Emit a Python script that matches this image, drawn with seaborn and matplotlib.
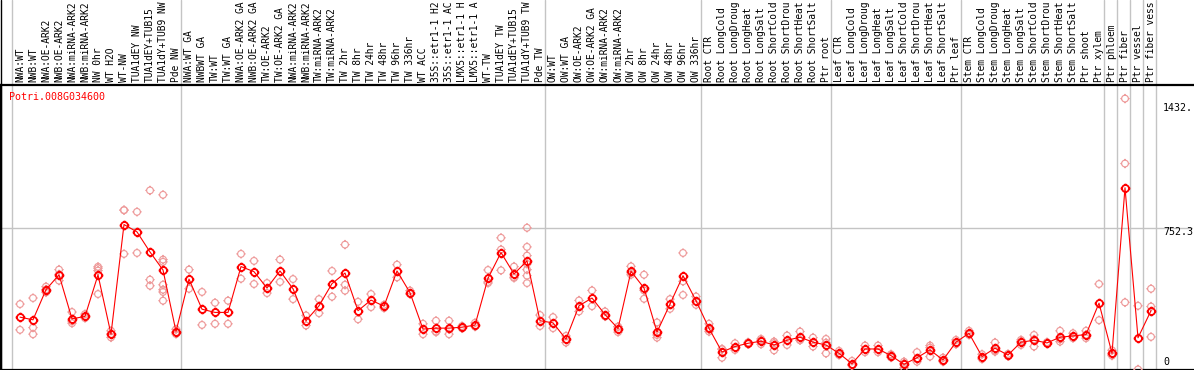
import numpy as np
import pandas as pd
import matplotlib
matplotlib.use("Agg")
import matplotlib.pyplot as plt
import matplotlib.transforms as mtransforms
from matplotlib.path import Path
from matplotlib.lines import Line2D
import seaborn as sns

# ---------------- data ----------------
gene = "Potri.008G034600"

categories = [
    "NWA:WT", "NWB:WT", "NWA:OE-ARK2", "NWB:OE-ARK2", "NWA:miRNA-ARK2", "NWB:miRNA-ARK2",
    "NW 0hr", "WT H2O", "WT-NW", "TUA1dEY NW", "TUA1dEY+TUB15", "TUA1dY+TUB9 NW", "Pde NW",
    "NWA:WT GA", "NWBWT GA", "TW:WT", "TW:WT GA", "NWA:OE-ARK2 GA", "NWB:OE-ARK2 GA",
    "TW:OE-ARK2", "TW:OE-ARK2 GA", "NWA:miRNA-ARK2", "NWB:miRNA-ARK2", "TW:miRNA-ARK2",
    "TW:miRNA-ARK2", "TW 2hr", "TW 8hr", "TW 24hr", "TW 48hr", "TW 96hr", "TW 336hr",
    "WT ACC", "35S::etr1-1 H2", "35S::etr1-1 AC", "LMX5::etr1-1 H", "LMX5::etr1-1 A",
    "WT-TW", "TUA1dEY TW", "TUA1dEY+TUB15", "TUA1dY+TUB9 TW", "Pde TW",
    "OW:WT", "OW:WT GA", "OW:OE-ARK2", "OW:OE-ARK2 GA", "OW:miRNA-ARK2", "OW:miRNA-ARK2",
    "OW 2hr", "OW 8hr", "OW 24hr", "OW 48hr", "OW 96hr", "OW 336hr",
    "Root CTR", "Root LongCold", "Root LongDroug", "Root LongHeat", "Root LongSalt",
    "Root ShortCold", "Root ShortDrou", "Root ShortHeat", "Root ShortSalt", "Ptr root",
    "Leaf CTR", "Leaf LongCold", "Leaf LongDroug", "Leaf LongHeat", "Leaf LongSalt",
    "Leaf ShortCold", "Leaf ShortDrou", "Leaf ShortHeat", "Leaf ShortSalt", "Ptr leaf",
    "Stem CTR", "Stem LongCold", "Stem LongDroug", "Stem LongHeat", "Stem LongSalt",
    "Stem ShortCold", "Stem ShortDrou", "Stem ShortHeat", "Stem ShortSalt", "Ptr shoot",
    "Ptr xylem", "Ptr phloem", "Ptr fiber", "Ptr vessel", "Ptr fiber vess",
]

means = [
    279, 265, 424, 503, 270, 283, 502, 189, 768, 729, 623, 528, 203,
    480, 321, 304, 304, 546, 519, 433, 523, 429, 260, 339, 456, 512, 313, 369, 337,
    523, 408, 216, 221, 221, 226, 237, 484, 620, 507, 576, 260,
    249, 163, 339, 380, 293, 219, 521, 433, 200, 348, 498, 366,
    220, 95, 124, 141, 152, 132, 157, 173, 147, 132,
    88, 33, 111, 111, 76, 30, 65, 106, 53, 147,
    194, 71, 115, 79, 147, 157, 143, 173, 180, 187,
    353, 88, 962, 170, 313,
]

replicates = [
    [348, 212], [380, 224, 189], [440, 425, 410], [530, 505, 472], [306, 258, 247],
    [295, 283, 274], [545, 537, 525, 401], [207, 190, 172], [844, 844, 613], [835, 618],
    [948, 477, 445], [925, 583, 571, 450, 424, 412, 366], [215, 200, 190],
    [530, 429], [412, 238], [355, 244], [366, 244], [613, 482], [576, 454], [459, 406],
    [583, 465], [480, 374], [288, 235], [374, 300], [523, 387], [662, 450, 419],
    [360, 268], [401, 332], [344, 327], [556, 489], [419, 401], [244, 189],
    [260, 203, 200], [260, 189, 215], [232, 220], [249, 229], [528, 459, 465],
    [698, 526, 636], [546, 486, 490], [751, 650, 604, 560, 530, 498, 459], [290, 232],
    [279, 221], [180, 145], [367, 309], [420, 337], [309, 283, 287], [229, 200, 228],
    [547, 503, 513], [503, 376, 420], [251, 185, 171], [374, 323], [618, 468, 396],
    [388, 344],
    [244, 203, 213], [111, 65, 110], [141, 106], [146, 136], [164, 136, 156],
    [150, 104, 142], [182, 132], [203, 159, 157], [171, 124], [164, 88, 144],
    [101, 79, 84], [48, 23, 28], [129, 94], [129, 94], [83, 66, 79], [44, 12, 34],
    [94, 44, 57], [129, 71, 118], [65, 44, 50], [159, 136],
    [207, 185, 190], [83, 58], [145, 97, 103], [85, 73], [159, 132, 150],
    [185, 124, 162], [147, 139], [207, 150, 162], [194, 168, 178], [207, 168, 186],
    [454, 263], [104, 76, 84], [1432.9, 1090, 357], [339, 3], [429, 335, 175],
]

# index of the last sample before each grey divider (-1 = before the first sample)
divider_after = [-1, 12, 40, 52, 62, 72, 83, 84, 85, 86, 87]

ytick_values = [0, 752.3, 1432.9]
ytick_labels = ["0", "752.3", "1432."]
y_top = 1504.6

# ---------------- styling ----------------
sns.set_style("white")
plt.rcParams["font.family"] = ["DejaVu Sans Mono", "DejaVu Sans"]

W, H = 1194, 370
fig = plt.figure(figsize=(W / 100, H / 100), dpi=100)
ax = fig.add_axes([1 / W, 0 / H, 1192 / W, 285 / H])

step = 13.0
ax.set_xlim(-19 / step, -19 / step + 1192 / step)
ax.set_ylim(0, y_top)

for side in ["top", "bottom", "left"]:
    ax.spines[side].set_color("black")
    ax.spines[side].set_linewidth(1.6)
ax.spines["right"].set_visible(False)
ax.set_xticks([])
ax.set_yticks([])

# marker: open circle with four small ticks
tick = 1.4
circle = Path.unit_circle()
ticks = Path(
    [[0, 1], [0, tick], [0, -1], [0, -tick], [1, 0], [tick, 0], [-1, 0], [-tick, 0]],
    [Path.MOVETO, Path.LINETO] * 4,
)
mk = Path.make_compound_path(circle, ticks)

grey = "#C4C4C4"
pink = "#EE9A9A"
red = "#FF0000"

# dividers (through label band too)
for d in divider_after:
    ax.axvline(d + 0.35, ymin=0, ymax=1 + 85 / 285, color=grey, lw=1.0,
               clip_on=False, zorder=1)
ax.axhline(ytick_values[1], color=grey, lw=1.0, zorder=1)

# replicates
rep_df = pd.DataFrame(
    [(i, v) for i, reps in enumerate(replicates) for v in reps], columns=["idx", "value"]
)
sns.scatterplot(data=rep_df, x="idx", y="value", marker=mk, s=46, color=pink,
                edgecolor=pink, linewidth=0.85, ax=ax, zorder=3, legend=False)
ax.collections[-1].set_facecolor("none")

# means line
mean_df = pd.DataFrame({"idx": np.arange(len(means)), "value": means})
sns.lineplot(data=mean_df, x="idx", y="value", ax=ax, color=red, lw=0.8,
             marker=mk, markersize=7.0, markerfacecolor="none",
             markeredgecolor=red, markeredgewidth=1.3, zorder=4, legend=False)
ax.set_xlabel("")
ax.set_ylabel("")

# sample labels above plot
lab_tr = mtransforms.blended_transform_factory(ax.transData, ax.transAxes)
for i, lab in enumerate(categories):
    ax.annotate(lab, xy=(i, 1), xycoords=lab_tr, xytext=(0, 2.5),
                textcoords="offset pixels", rotation=90, ha="center", va="bottom",
                fontsize=6.9, color="black", annotation_clip=False)

# gene name
ax.annotate(gene, xy=(0, 1), xycoords="axes fraction", xytext=(8.3, -11.7),
            textcoords="offset pixels", ha="left", va="center", fontsize=7.2, color=red)

# right-hand value labels
val_tr = mtransforms.blended_transform_factory(ax.transAxes, ax.transData)
label_offsets = [8.3, -4.5, -9.1]
for v, t, off in zip(ytick_values, ytick_labels, label_offsets):
    ax.annotate(t, xy=((1163 - 1) / 1192, v), xycoords=val_tr, xytext=(0, off),
                textcoords="offset pixels", ha="left", va="center", fontsize=7.2,
                color="black", annotation_clip=False)

# left border through the label band
fig.add_artist(Line2D([0.6 / W, 0.6 / W], [0, 1], transform=fig.transFigure,
                      color="black", lw=1.0))

fig.savefig("out.png", dpi=100)
